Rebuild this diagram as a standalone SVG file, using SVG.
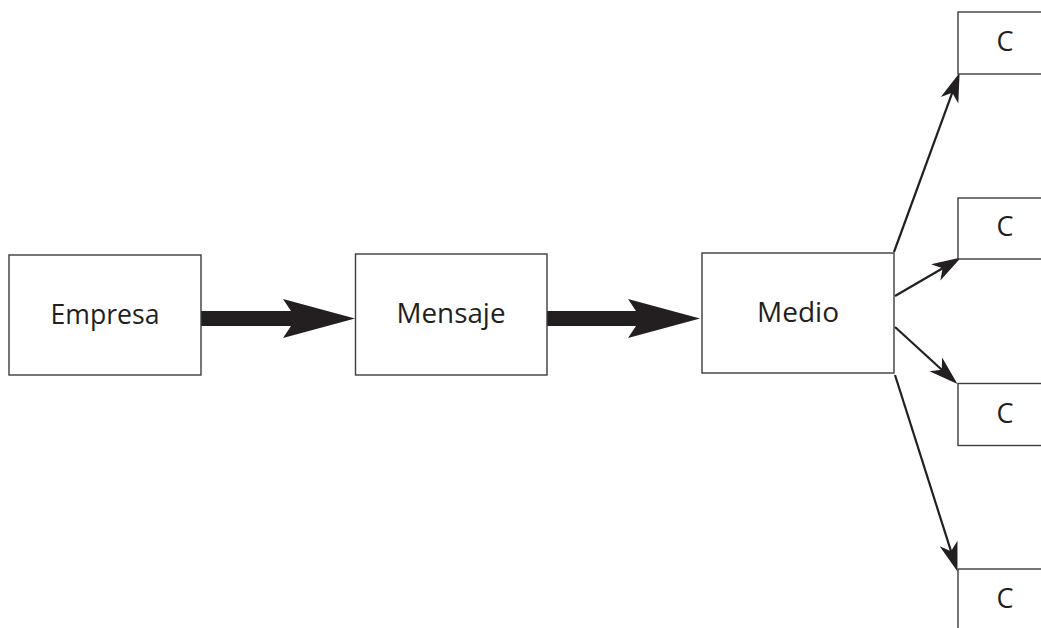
<svg xmlns="http://www.w3.org/2000/svg" width="1041" height="628" viewBox="0 0 1041 628">
  <style>
    .box { fill: #ffffff; stroke: #3c3c3c; stroke-width: 1.4; }
    .lbl { font-family: "Open Sans", "Noto Sans", sans-serif; font-size: 27px; fill: #231f20; text-anchor: middle; }
    .fat { fill: #231f20; }
    .thin { stroke: #231f20; stroke-width: 2.2; fill: none; marker-end: url(#head); }
  </style>
  <defs>
    <marker id="head" markerUnits="userSpaceOnUse" markerWidth="40" markerHeight="40" viewBox="-10 -10 30 20" refX="0" refY="0" orient="auto" overflow="visible">
      <path d="M14,0 L-8,-7 L-2,0 L-8,7 Z" fill="#231f20"/>
    </marker>
  </defs>

  <rect width="1041" height="628" fill="#ffffff"/>

  <g id="connectors">
    <!-- thick flow arrows -->
    <polygon class="fat" points="201,311 291,311 283,299 355,318.5 283,338 291,326 201,326"/>
    <polygon class="fat" points="547,311 636,311 628,299 700,318.5 628,338 636,326 547,326"/>
    <!-- fan-out from Medio -->
    <line class="thin" x1="894" y1="252" x2="953.2" y2="90.2"/>
    <line class="thin" x1="895" y1="296" x2="944.9" y2="267"/>
    <line class="thin" x1="895" y1="327" x2="943.7" y2="371.5"/>
    <line class="thin" x1="895" y1="375" x2="951.8" y2="553.7"/>
  </g>

  <g id="empresa">
    <rect class="box" x="9" y="255" width="192" height="120"/>
    <text class="lbl" x="105" y="324" textLength="109" lengthAdjust="spacingAndGlyphs">Empresa</text>
  </g>
  <g id="mensaje">
    <rect class="box" x="355.5" y="254" width="191.5" height="121"/>
    <text class="lbl" x="451" y="323" textLength="109" lengthAdjust="spacingAndGlyphs">Mensaje</text>
  </g>
  <g id="medio">
    <rect class="box" x="702" y="253" width="192" height="120"/>
    <text class="lbl" x="798" y="322" textLength="82" lengthAdjust="spacingAndGlyphs">Medio</text>
  </g>

  <g id="c1">
    <rect class="box" x="958" y="12" width="120" height="62"/>
    <text class="lbl" x="1005" y="51">C</text>
  </g>
  <g id="c2">
    <rect class="box" x="958" y="198" width="120" height="61"/>
    <text class="lbl" x="1005" y="236">C</text>
  </g>
  <g id="c3">
    <rect class="box" x="958" y="383.5" width="120" height="62"/>
    <text class="lbl" x="1005" y="423">C</text>
  </g>
  <g id="c4">
    <rect class="box" x="958" y="569" width="120" height="80"/>
    <text class="lbl" x="1005" y="608">C</text>
  </g>
</svg>
